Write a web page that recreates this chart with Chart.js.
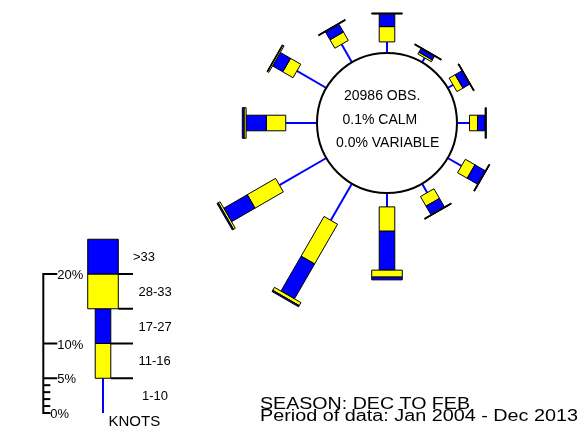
<!DOCTYPE html>
<html><head><meta charset="utf-8">
<script src="https://cdn.jsdelivr.net/npm/chart.js@4/dist/chart.umd.min.js"></script>
<style>html,body{margin:0;padding:0;background:#fff}canvas{display:block}</style>
</head><body>
<canvas id="c" width="585" height="432"></canvas>
<script>
// ---- DATA ----
const directions = [0, 30, 60, 90, 120, 150, 180, 210, 240, 270, 300, 330];
const speedBands = ['1-10', '11-16', '17-27', '28-33', '>33'];
const pct1to10  = [1.6, 0.75, 0.9, 1.8, 2.3, 1.5, 2.0, 6.1, 7.8, 4.5, 4.9, 3.0];
const pct11to16 = [2.2, 0.3, 1.0, 1.15, 1.6, 1.6, 3.5, 6.6, 4.7, 2.8, 1.7, 1.4];
const pct17to27 = [1.8, 0.6, 1.1, 1.1, 1.7, 1.4, 5.6, 5.8, 3.9, 2.9, 1.7, 1.3];
const pct28to33 = [0.1, 0.1, 0.1, 0.1, 0.1, 0.1, 1.0, 0.5, 0.3, 0.3, 0.2, 0.1];
const pctOver33 = [0.05, 0.05, 0.05, 0.05, 0.05, 0.05, 0.4, 0.2, 0.2, 0.25, 0.1, 0.05];
const scaleTicks = [0, 5, 10, 20];
const scaleMinorTicks = [1, 2, 3, 4];
const legendBandPct = 5;
const obsText = '20986 OBS.';
const calmText = '0.1% CALM';
const variableText = '0.0% VARIABLE';
const seasonText = 'SEASON: DEC TO FEB';
const periodText = 'Period of data: Jan 2004 - Dec 2013';

// ---- LAYOUT / STYLE ----
const PX = 6.95;           // pixels per percent
const CX = 387, CY = 123;  // rose centre pixel
const W = 585, H = 432;
const CALM_R = 10.07;      // calm circle radius (percent units)
const NARROW = 1.12, WIDE = 2.2; // half widths
const BLUE = '#0000FF', YELLOW = '#FFFF00';
const LEG_AXIS_X = (43.3 - CX) / PX, LEG_BASE_Y = (CY - 413) / PX, LEG_BAR_X = (103 - CX) / PX;

function polar(theta, r, w) {
  const t = theta * Math.PI / 180;
  return [Math.sin(t) * r + Math.cos(t) * w, Math.cos(t) * r - Math.sin(t) * w];
}

const rosePlugin = {
  id: 'rose',
  afterDraw(chart) {
    const ctx = chart.ctx, sx = chart.scales.x, sy = chart.scales.y;
    const P = (x, y) => [sx.getPixelForValue(x), sy.getPixelForValue(y)];
    function box(ox, oy, theta, r0, r1, hw, fill) {
      const pts = [polar(theta, r0, -hw), polar(theta, r1, -hw), polar(theta, r1, hw), polar(theta, r0, hw)]
        .map(p => P(ox + p[0], oy + p[1]));
      ctx.beginPath();
      ctx.moveTo(pts[0][0], pts[0][1]);
      for (let i = 1; i < 4; i++) ctx.lineTo(pts[i][0], pts[i][1]);
      ctx.closePath();
      ctx.fillStyle = fill; ctx.fill();
      ctx.strokeStyle = '#000'; ctx.lineWidth = 1; ctx.stroke();
    }
    function line(ox, oy, theta, r0, r1, color, lw) {
      const a = polar(theta, r0, 0), b = polar(theta, r1, 0);
      const pa = P(ox + a[0], oy + a[1]), pb = P(ox + b[0], oy + b[1]);
      ctx.beginPath(); ctx.moveTo(pa[0], pa[1]); ctx.lineTo(pb[0], pb[1]);
      ctx.strokeStyle = color; ctx.lineWidth = lw; ctx.stroke();
    }
    function bar(ox, oy, theta, r, vals) {
      let a = r;
      line(ox, oy, theta, a, a + vals[0], BLUE, 2); a += vals[0];
      box(ox, oy, theta, a, a + vals[1], NARROW, YELLOW); a += vals[1];
      box(ox, oy, theta, a, a + vals[2], NARROW, BLUE); a += vals[2];
      box(ox, oy, theta, a, a + vals[3], WIDE, YELLOW); a += vals[3];
      box(ox, oy, theta, a, a + vals[4], WIDE, BLUE);
    }
    ctx.save();
    ctx.lineCap = 'butt';
    // rose bars
    directions.forEach((d, i) => {
      bar(0, 0, d, CALM_R, [pct1to10[i], pct11to16[i], pct17to27[i], pct28to33[i], pctOver33[i]]);
    });
    // calm circle
    const c = P(0, 0);
    const rp = sx.getPixelForValue(CALM_R) - sx.getPixelForValue(0);
    ctx.beginPath(); ctx.arc(c[0], c[1], rp, 0, Math.PI * 2);
    ctx.fillStyle = '#fff'; ctx.fill();
    ctx.strokeStyle = '#000'; ctx.lineWidth = 2; ctx.stroke();
    ctx.fillStyle = '#000';
    ctx.font = '14px "Liberation Sans", Arial, sans-serif';
    ctx.textAlign = 'left'; ctx.textBaseline = 'alphabetic';
    ctx.fillText(obsText, c[0] - 43, c[1] - 23);
    ctx.fillText(calmText, c[0] - 44.5, c[1] + 0.5);
    ctx.fillText(variableText, c[0] - 51, c[1] + 23.7);

    // legend bar
    bar(LEG_BAR_X, LEG_BASE_Y, 0, 0, [legendBandPct, legendBandPct, legendBandPct, legendBandPct, legendBandPct]);
    // legend scale axis
    ctx.fillStyle = '#000';
    ctx.strokeStyle = '#000'; ctx.lineWidth = 2;
    const a0 = P(LEG_AXIS_X, LEG_BASE_Y), a1 = P(LEG_AXIS_X, LEG_BASE_Y + scaleTicks[scaleTicks.length - 1]);
    ctx.beginPath(); ctx.moveTo(a0[0], a0[1] + 1); ctx.lineTo(a1[0], a1[1] - 1); ctx.stroke();
    ctx.font = '13px "Liberation Sans", Arial, sans-serif';
    ctx.textBaseline = 'middle';
    scaleMinorTicks.concat([0]).forEach(v => {
      const p = P(LEG_AXIS_X, LEG_BASE_Y + v);
      ctx.beginPath(); ctx.moveTo(p[0], p[1]); ctx.lineTo(p[0] + 7, p[1]); ctx.stroke();
    });
    scaleTicks.forEach(v => {
      const p = P(LEG_AXIS_X, LEG_BASE_Y + v);
      const len = v === 0 ? 7 : 14;
      ctx.beginPath(); ctx.moveTo(p[0], p[1]); ctx.lineTo(p[0] + len, p[1]); ctx.stroke();
      ctx.fillText(v + '%', p[0] + len, p[1] + 1.5);
    });
    // legend right ticks and labels
    const tickEnd = sx.getPixelForValue((133 - CX) / PX);
    for (let k = 1; k <= 4; k++) {
      const hw = k <= 2 ? NARROW : WIDE;
      const p = P(LEG_BAR_X + hw, LEG_BASE_Y + k * legendBandPct);
      ctx.beginPath(); ctx.moveTo(p[0], p[1]); ctx.lineTo(tickEnd, p[1]); ctx.stroke();
    }
    const labelX = [142, 138.5, 138.5, 138.5, 133];
    speedBands.forEach((lab, k) => {
      const p = P(0, LEG_BASE_Y + (k + 0.5) * legendBandPct);
      ctx.fillText(lab, labelX[k], p[1] + 1);
    });
    ctx.font = '15px "Liberation Sans", Arial, sans-serif';
    ctx.textBaseline = 'alphabetic';
    ctx.fillText('KNOTS', 108.5, 426);

    // season / period text (stretched horizontally)
    ctx.font = '16px "Liberation Sans", Arial, sans-serif';
    [[seasonText, 409, 210], [periodText, 421, 318]].forEach(([t, y, w]) => {
      const m = ctx.measureText(t).width;
      ctx.save(); ctx.translate(260, y); ctx.scale(w / m, 1); ctx.fillText(t, 0, 0); ctx.restore();
    });
    ctx.restore();
  }
};

new Chart(document.getElementById('c').getContext('2d'), {
  type: 'scatter',
  data: { datasets: [{ data: [], pointRadius: 0 }] },
  options: {
    responsive: false, animation: false, events: [],
    layout: { padding: 0 },
    plugins: { legend: { display: false }, tooltip: { enabled: false }, title: { display: false } },
    scales: {
      x: { type: 'linear', display: false, min: -CX / PX, max: (W - CX) / PX },
      y: { type: 'linear', display: false, min: -(H - CY) / PX, max: CY / PX }
    }
  },
  plugins: [rosePlugin]
});
</script>
</body></html>
